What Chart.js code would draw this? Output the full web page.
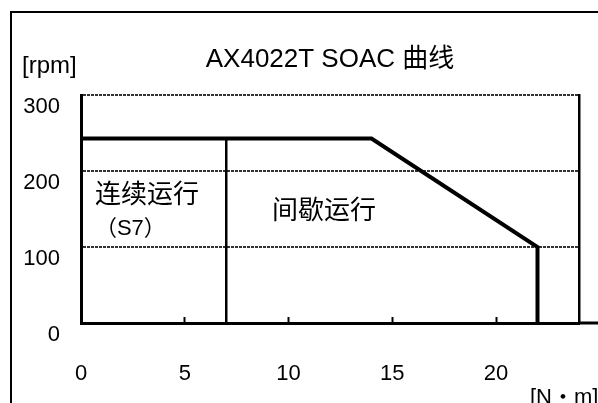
<!DOCTYPE html>
<html>
<head>
<meta charset="utf-8">
<script src="https://cdn.jsdelivr.net/npm/chart.js@4/dist/chart.umd.min.js"></script>
<style>
    html, body { margin: 0; padding: 0; background: #fff; overflow: hidden; }
    #wrap { width: 598px; height: 403px; position: relative; }
</style>
</head>
<body>
<div id="wrap"><canvas id="soac"></canvas></div>
<script>
// ==================== ДАННЫЕ ====================
const titleText = 'AX4022T SOAC 曲线';
const speedUnit = '[rpm]';
const torqueUnit = '[N・m]';

const torqueTicks = [0, 5, 10, 15, 20];
const speedTicks = [0, 100, 200, 300];

// граница области (прерывистый режим)
const limitTorque = [0, 14, 22, 22];
const limitSpeed = [243, 243, 100, 0];

// граница непрерывного режима (S7)
const contTorque = [7, 7];
const contSpeed = [243, 0];

const FONT = '"Liberation Sans", Arial, "Noto Sans CJK SC", sans-serif';

function toPoints(xs, ys) {
    return xs.map((x, i) => ({ x: x, y: ys[i] }));
}

// рамка, продолжение оси и подписи
const decorPlugin = {
    id: 'decor',
    afterDraw(chart) {
        const ctx = chart.ctx;
        const area = chart.chartArea;
        const sx = chart.scales.x;
        const sy = chart.scales.y;
        ctx.save();
        ctx.strokeStyle = '#000';

        // внешняя рамка
        ctx.lineWidth = 2;
        ctx.beginPath();
        ctx.moveTo(11, chart.height);
        ctx.lineTo(11, 12);
        ctx.lineTo(chart.width, 12);
        ctx.stroke();

        // ось X до края
        ctx.lineWidth = 3;
        ctx.beginPath();
        ctx.moveTo(area.right, sy.getPixelForValue(0));
        ctx.lineTo(chart.width, sy.getPixelForValue(0));
        ctx.stroke();

        ctx.fillStyle = '#000';
        ctx.textBaseline = 'middle';
        ctx.textAlign = 'left';

        ctx.font = '24px ' + FONT;
        ctx.fillText(speedUnit, 22, 66);
        ctx.font = '22px ' + FONT;
        ctx.fillText(torqueUnit, 530, 398);

        ctx.font = '26px ' + FONT;
        ctx.fillText('连续运行', sx.getPixelForValue(0.67), sy.getPixelForValue(168));
        ctx.fillText('间歇运行', sx.getPixelForValue(9.2), sy.getPixelForValue(147));
        ctx.font = '22px ' + FONT;
        ctx.fillText('（S7）', sx.getPixelForValue(0.67), sy.getPixelForValue(124));
        ctx.restore();
    }
};

new Chart(document.getElementById('soac'), {
    type: 'line',
    data: {
        datasets: [{
            data: toPoints(limitTorque, limitSpeed),
            borderColor: '#000',
            borderWidth: 4,
            pointRadius: 0,
            fill: false,
            tension: 0
        }, {
            data: toPoints(contTorque, contSpeed),
            borderColor: '#000',
            borderWidth: 2.5,
            pointRadius: 0,
            fill: false,
            tension: 0
        }]
    },
    options: {
        responsive: true,
        maintainAspectRatio: false,
        animation: false,
        layout: { padding: 0 },
        plugins: {
            legend: { display: false },
            tooltip: { enabled: false },
            title: {
                display: true,
                text: titleText,
                fullSize: false,
                color: '#000',
                font: { family: FONT, size: 26, weight: 'normal' },
                padding: { top: 44, bottom: 20 }
            }
        },
        scales: {
            x: {
                type: 'linear',
                min: 0,
                max: 24,
                afterBuildTicks: s => { s.ticks = torqueTicks.map(v => ({ value: v })); },
                afterFit: s => { s.height = 80; },
                grid: {
                    drawOnChartArea: false,
                    drawTicks: true,
                    tickLength: -6,
                    tickColor: '#000',
                    tickWidth: 2
                },
                border: { display: true, color: '#000', width: 3 },
                ticks: {
                    color: '#000',
                    padding: 44,
                    maxRotation: 0,
                    font: { family: FONT, size: 22 }
                }
            },
            y: {
                min: 0,
                max: 300,
                afterBuildTicks: s => { s.ticks = speedTicks.map(v => ({ value: v })); },
                afterFit: s => { s.width = 81; },
                grid: {
                    color: '#333',
                    lineWidth: 2,
                    drawTicks: false
                },
                // в v4 dash задаёт пунктир линий сетки
                border: { display: true, color: '#000', width: 3, dash: [3, 1] },
                ticks: {
                    color: '#000',
                    padding: 21,
                    labelOffset: 12,
                    font: { family: FONT, size: 22 }
                }
            },
            y2: {
                position: 'right',
                min: 0,
                max: 300,
                afterFit: s => { s.width = 19; },
                grid: { display: false },
                border: { display: true, color: '#000', width: 2.5 },
                ticks: { display: false }
            }
        }
    },
    plugins: [decorPlugin]
});
</script>
</body>
</html>
